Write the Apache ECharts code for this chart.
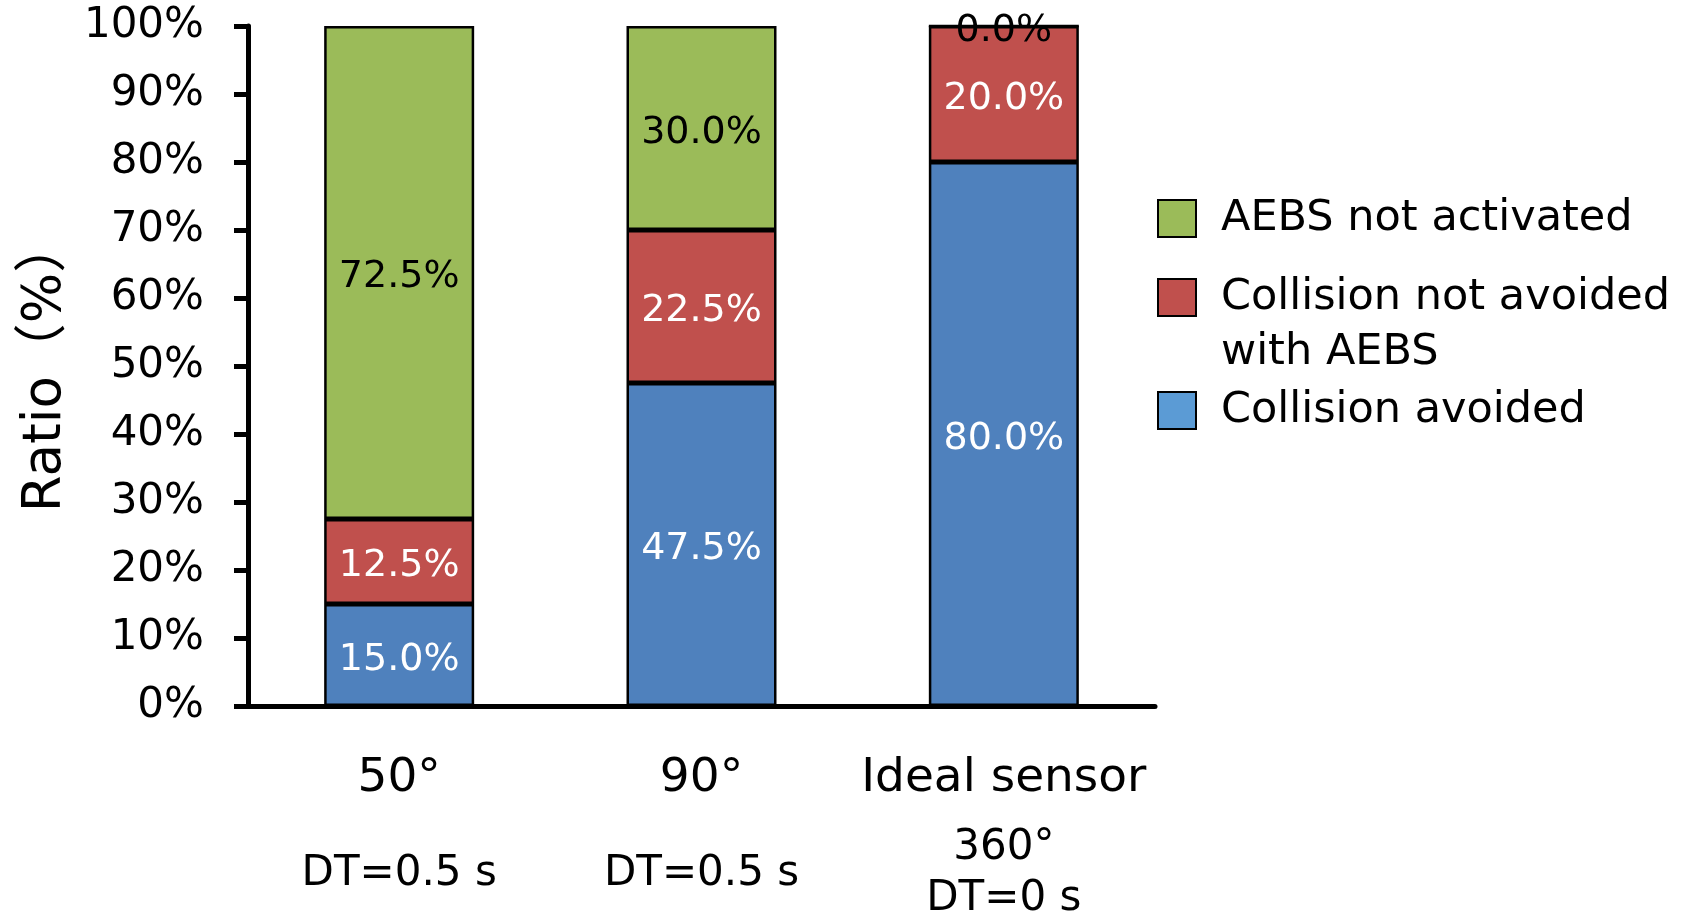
<!DOCTYPE html>
<html>
<head>
<meta charset="utf-8">
<script src="https://cdn.jsdelivr.net/npm/echarts@6/dist/echarts.min.js"></script>
<style>
html,body{margin:0;padding:0;background:#fff;}
#chart{width:1682px;height:915px;}
</style>
</head>
<body>
<div id="chart"></div>
<script>
// ---- data ----
const categories = ['50°', '90°', 'Ideal sensor'];
const subLabels = [['DT=0.5 s'], ['DT=0.5 s'], ['360°', 'DT=0 s']];
const seriesNames = ['Collision avoided', 'Collision not avoided with AEBS', 'AEBS not activated'];
const collisionAvoided = [15.0, 47.5, 80.0];
const collisionNotAvoided = [12.5, 22.5, 20.0];
const aebsNotActivated = [72.5, 30.0, 0.0];
const yTicks = [0, 10, 20, 30, 40, 50, 60, 70, 80, 90, 100];

const FONT = '"DejaVu Sans", "Noto Sans CJK JP", sans-serif';
const colors = {blue: '#4F81BD', red: '#C0504D', green: '#9BBB59', legendBlue: '#5B9BD5'};

const chart = echarts.init(document.getElementById('chart'));

function barSeries(name, data, color, labelColor) {
  return {
    name: name,
    type: 'bar',
    stack: 'total',
    data: data,
    barWidth: 150,
    itemStyle: {color: color, borderColor: '#000', borderWidth: 2.5},
    label: {
      show: true,
      position: 'inside',
      offset: [0, 5],
      color: labelColor,
      fontFamily: FONT,
      fontSize: 38,
      formatter: p => p.value.toFixed(1) + '%'
    }
  };
}

function legendBox(name, top, formatter, color) {
  const item = {name: name};
  if (color) item.itemStyle = {color: color};
  return {
    data: [item],
    left: 1157,
    top: top,
    padding: 0,
    icon: 'rect',
    itemWidth: 38,
    itemHeight: 37,
    itemStyle: {borderColor: '#000', borderWidth: 2},
    selectedMode: false,
    formatter: formatter,
    textStyle: {
      fontFamily: FONT,
      fontSize: 43,
      lineHeight: 55,
      color: '#000',
      padding: [0, 0, 0, 20]
    }
  };
}

const option = {
  animation: false,
  backgroundColor: '#fff',
  grid: {left: 248, right: 527, top: 26, bottom: 209, containLabel: false, outerBoundsMode: 'none'},
  legend: [
    legendBox('AEBS not activated', 191, 'AEBS not activated'),
    legendBox('Collision not avoided with AEBS', 215, '\nCollision not avoided\nwith AEBS'),
    legendBox('Collision avoided', 383, 'Collision avoided', colors.legendBlue)
  ],
  xAxis: {
    type: 'category',
    data: categories,
    axisLine: {lineStyle: {color: '#000', width: 5}},
    axisTick: {show: false},
    axisLabel: {
      interval: 0,
      margin: 28,
      color: '#000',
      fontFamily: FONT,
      formatter: function (v, i) {
        const subs = subLabels[i];
        if (subs.length === 1) return '{a|' + v + '}\n{b|' + subs[0] + '}';
        return '{a|' + v + '}\n' + subs.map(s => '{c|' + s + '}').join('\n');
      },
      rich: {
        a: {fontFamily: FONT, fontSize: 47, lineHeight: 89, color: '#000'},
        b: {fontFamily: FONT, fontSize: 42, lineHeight: 103, color: '#000'},
        c: {fontFamily: FONT, fontSize: 42, lineHeight: 51, color: '#000'}
      }
    }
  },
  yAxis: {
    type: 'value',
    min: yTicks[0],
    max: yTicks[yTicks.length - 1],
    interval: yTicks[1] - yTicks[0],
    name: 'Ratio（%）',
    nameLocation: 'middle',
    nameRotate: 90,
    nameGap: 175,
    nameTextStyle: {fontFamily: FONT, fontSize: 53, color: '#000'},
    axisLine: {show: true, lineStyle: {color: '#000', width: 5}},
    axisTick: {show: true, length: 14, lineStyle: {color: '#000', width: 5}},
    splitLine: {show: false},
    axisLabel: {
      margin: 44,
      color: '#000',
      fontFamily: FONT,
      fontSize: 42,
      padding: [10, 0, 0, 0],
      formatter: '{value}%'
    }
  },
  series: [
    barSeries(seriesNames[0], collisionAvoided, colors.blue, '#fff'),
    barSeries(seriesNames[1], collisionNotAvoided, colors.red, '#fff'),
    barSeries(seriesNames[2], aebsNotActivated, colors.green, '#000')
  ]
};
chart.setOption(option);
</script>
</body>
</html>
